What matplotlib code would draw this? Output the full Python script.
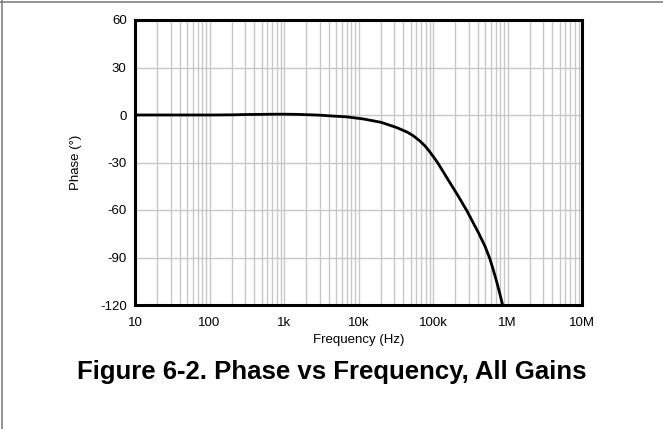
import matplotlib
matplotlib.use("Agg")
import matplotlib.pyplot as plt
from matplotlib.lines import Line2D
from matplotlib import font_manager
import numpy as np

# Data
freq_hz = [10, 20, 30, 50, 100, 200, 300, 500, 700, 1000, 1500, 2000, 3000,
           4000, 7000, 11600, 20000, 32000, 45000, 54000, 67000, 78000, 89000,
           100000, 115000, 160000, 220000, 285000, 414000, 500000, 582000,
           646000, 713000, 790000, 860000]
phase_deg = [0.0, 0.0, 0.0, 0.0, 0.0, 0.1, 0.3, 0.4, 0.5, 0.5, 0.4, 0.2, -0.1,
             -0.5, -1.2, -2.5, -4.6, -7.8, -10.8, -13.0, -16.5, -19.5, -22.8,
             -26.0, -30.0, -41.0, -51.5, -60.5, -75.0, -83.0, -91.0,
             -98.0, -105.0, -113.0, -120.0]

x_ticks = [10, 100, 1e3, 1e4, 1e5, 1e6, 1e7]
x_tick_labels = ["10", "100", "1k", "10k", "100k", "1M", "10M"]
y_ticks = [60, 30, 0, -30, -60, -90, -120]
y_tick_labels = ["60", "30", "0", "-30", "-60", "-90", "-120"]

names = {f.name for f in font_manager.fontManager.ttflist}
base_font = "Liberation Sans" if "Liberation Sans" in names else "DejaVu Sans"
plt.rcParams["font.family"] = [base_font, "DejaVu Sans"]

fig = plt.figure(figsize=(6.63, 4.29), dpi=100)
W, H = 663, 429
ax = fig.add_axes([135 / W, 1 - 305 / H, (582 - 135) / W, (305 - 20) / H])

ax.plot(freq_hz, phase_deg, color="black", lw=2.0, solid_joinstyle="round")
ax.set_xscale("log")
ax.set_xlim(10, 1e7)
ax.set_ylim(-120, 60)
ax.set_xticks(x_ticks)
ax.set_xticklabels(x_tick_labels)
ax.set_yticks(y_ticks)
ax.set_yticklabels(y_tick_labels)
ax.xaxis.set_minor_locator(matplotlib.ticker.LogLocator(base=10, subs=np.arange(2, 10)))
ax.xaxis.set_minor_formatter(matplotlib.ticker.NullFormatter())
ax.grid(True, which="major", color="#c8c8c8", lw=1.0)
ax.grid(True, which="minor", axis="x", color="#c8c8c8", lw=1.0)
ax.set_axisbelow(True)
ax.tick_params(which="both", length=0, labelsize=9.5)
ax.tick_params(axis="x", pad=9)
ax.tick_params(axis="y", pad=6)
for s in ax.spines.values():
    s.set_linewidth(2.2)
    s.set_color("black")

ax.set_xlabel("Frequency (Hz)", fontsize=9.5, labelpad=3)
ax.set_ylabel("Phase (°)", fontsize=9.5, labelpad=13)

fig.text(0.5, 1 - 372 / H, "Figure 6-2. Phase vs Frequency, All Gains",
         ha="center", va="center", fontsize=18.5, fontweight="bold")

# page frame
fig.add_artist(Line2D([0, 1], [1 - 1.5 / H, 1 - 1.5 / H], transform=fig.transFigure,
                      color="#808080", lw=1.2))
fig.add_artist(Line2D([1.5 / W, 1.5 / W], [0, 1], transform=fig.transFigure,
                      color="#808080", lw=1.2))

fig.savefig("out.png", dpi=100)
